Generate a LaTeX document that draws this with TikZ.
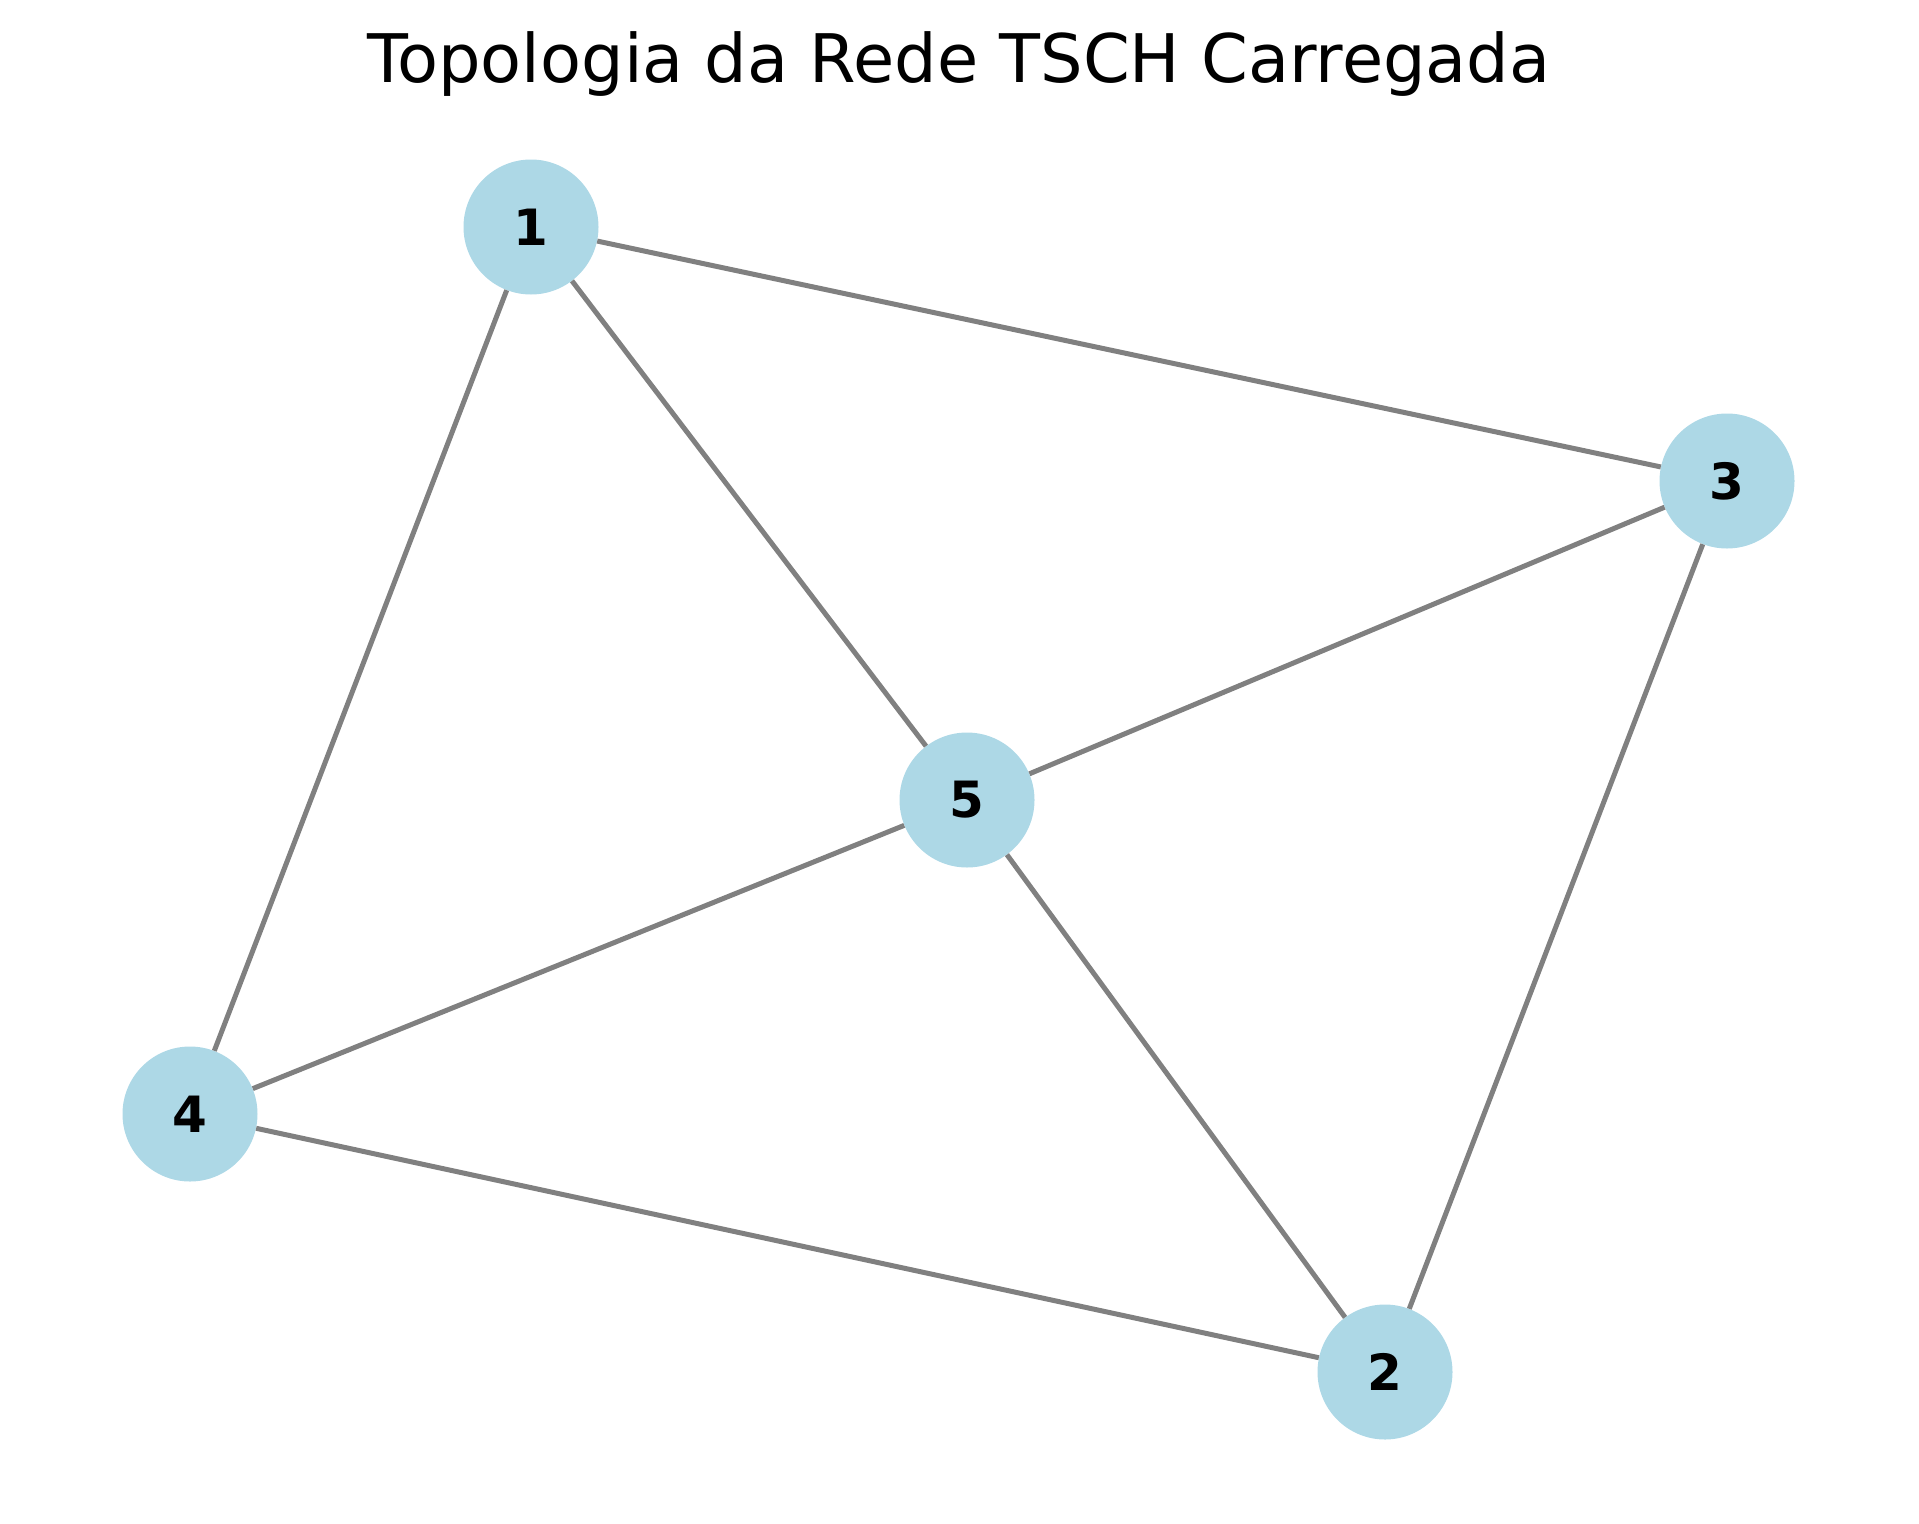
\documentclass[tikz,border=0pt]{standalone}
\usepackage{fontspec}
\setmainfont{DejaVu Sans}
\definecolor{nodeblue}{HTML}{ADD8E6}
\definecolor{edgegray}{HTML}{808080}
\begin{document}
\begin{tikzpicture}[x=1pt,y=-1pt,
  vertex/.style={circle,fill=nodeblue,minimum size=135pt,inner sep=0pt,font=\fontsize{50}{60}\selectfont\bfseries},
  edge/.style={draw=edgegray,line width=5pt}]
\useasboundingbox (0,0) rectangle (1919,1523);
\node[font=\fontsize{67}{80}\selectfont,anchor=base] (title) at (959,82) {Topologia da Rede TSCH Carregada};
\node[vertex] (n1) at (531,227) {1};
\node[vertex] (n3) at (1727,481) {3};
\node[vertex] (n5) at (967,800) {5};
\node[vertex] (n4) at (190,1114) {4};
\node[vertex] (n2) at (1385,1372) {2};
\draw[edge] (n1) -- (n3);
\draw[edge] (n1) -- (n5);
\draw[edge] (n1) -- (n4);
\draw[edge] (n3) -- (n5);
\draw[edge] (n3) -- (n2);
\draw[edge] (n5) -- (n4);
\draw[edge] (n5) -- (n2);
\draw[edge] (n4) -- (n2);
\end{tikzpicture}
\end{document}
